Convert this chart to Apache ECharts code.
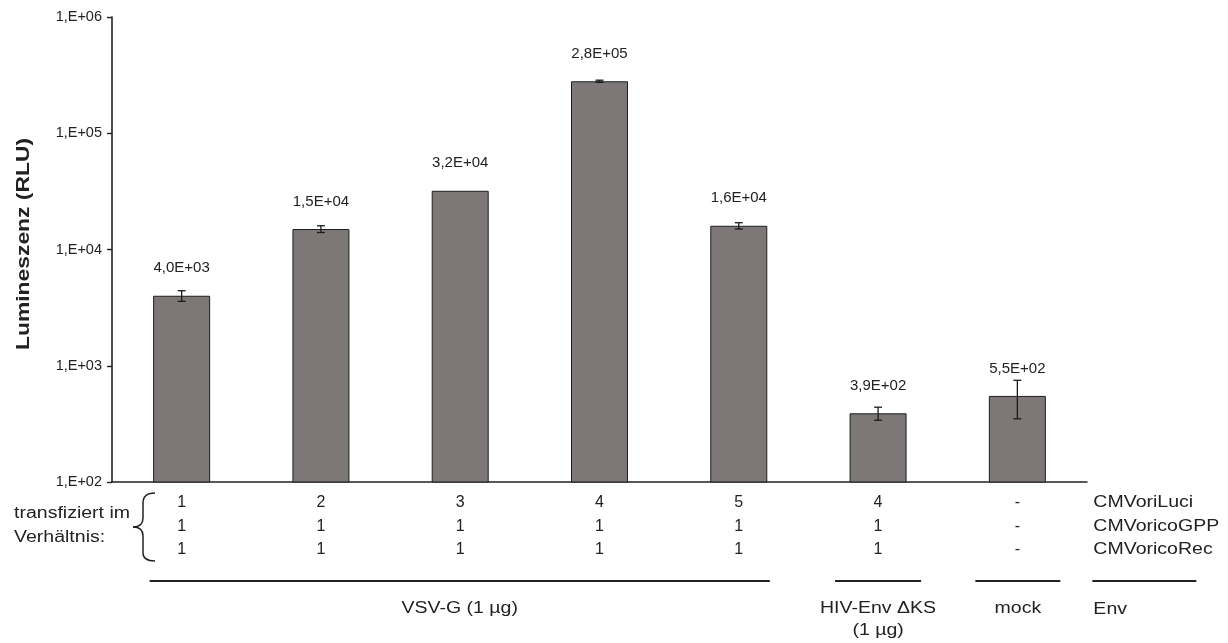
<!DOCTYPE html>
<html>
<head>
<meta charset="utf-8">
<title>Lumineszenz</title>
<script src="https://cdn.jsdelivr.net/npm/echarts@6/dist/echarts.min.js"></script>
<style>
  html, body { margin: 0; padding: 0; background: #ffffff; }
  #chart { width: 1228px; height: 643px; }
</style>
</head>
<body>
<div id="chart"></div>
<script>
// Luciferase readout per transfection mix (RLU, mean and error)
const categories = ['A', 'B', 'C', 'D', 'E', 'F', 'G'];
const values = [4000, 15000, 32000, 280000, 16000, 390, 550];
const errors = [420, 1000, 0, 6000, 1000, 50, 200];

// Plasmid ratios shown under each bar
const luciRatio = ['1', '2', '3', '4', '5', '4', '-'];
const gppRatio  = ['1', '1', '1', '1', '1', '1', '-'];
const recRatio  = ['1', '1', '1', '1', '1', '1', '-'];
const plasmidNames = ['CMVoriLuci', 'CMVoricoGPP', 'CMVoricoRec'];

// Envelope groups: label and first/last category index
const envGroups = [
  { lines: ['VSV-G (1 µg)'], from: 0, to: 4 },
  { lines: ['HIV-Env ΔKS', '(1 µg)'], from: 5, to: 5 },
  { lines: ['mock'], from: 6, to: 6 }
];

const FONT = '"Liberation Sans", Arial, Helvetica, sans-serif';
const INK = '#222222';

function sci(v) {
  const e = Math.floor(Math.log10(v));
  const m = (v / Math.pow(10, e)).toFixed(1).replace('.', ',');
  return m + 'E+' + String(e).padStart(2, '0');
}

const chart = echarts.init(document.getElementById('chart'), null, { renderer: 'canvas' });

chart.setOption({
  animation: false,
  backgroundColor: '#ffffff',
  textStyle: { fontFamily: FONT },
  grid: { left: 112, top: 17, width: 975, height: 465, containLabel: false },
  xAxis: {
    type: 'category',
    data: categories,
    boundaryGap: true,
    axisLine: { show: true, lineStyle: { color: INK, width: 1.6 } },
    axisTick: { show: false },
    axisLabel: {
      interval: 0,
      margin: 9,
      fontSize: 16,
      lineHeight: 23.5,
      color: INK,
      fontFamily: FONT,
      formatter: (v, idx) => [luciRatio[idx], gppRatio[idx], recRatio[idx]].join('\n')
    },
    splitLine: { show: false }
  },
  yAxis: {
    type: 'log',
    logBase: 10,
    min: 100,
    max: 1000000,
    axisLine: { show: true, lineStyle: { color: INK, width: 1.6 } },
    axisTick: { show: true, length: 5, inside: false, lineStyle: { color: INK, width: 1.4 } },
    minorTick: { show: false },
    splitLine: { show: false },
    axisLabel: {
      margin: 10,
      fontSize: 14.5,
      color: INK,
      fontFamily: FONT,
      formatter: v => '1,E+' + String(Math.round(Math.log10(v))).padStart(2, '0')
    }
  },
  series: [
    {
      type: 'bar',
      data: values,
      barWidth: 57,
      itemStyle: { color: '#7e7777', borderColor: '#1e1e1e', borderWidth: 1 },
      label: {
        show: true,
        position: 'top',
        distance: 20,
        fontSize: 15,
        color: INK,
        fontFamily: FONT,
        formatter: p => sci(p.value)
      },
      z: 2
    },
    {
      type: 'custom',
      data: values.map((v, i) => [i, v + errors[i], v - errors[i]]),
      encode: { x: 0, y: [1, 2] },
      renderItem: (params, api) => {
        const hiV = api.value(1), loV = api.value(2);
        if (hiV === loV) return null;
        const hi = api.coord([api.value(0), hiV]);
        const lo = api.coord([api.value(0), loV]);
        const w = 4;
        const st = { stroke: '#1a1a1a', lineWidth: 1.3 };
        return {
          type: 'group',
          children: [
            { type: 'line', shape: { x1: hi[0], y1: hi[1], x2: lo[0], y2: lo[1] }, style: st },
            { type: 'line', shape: { x1: hi[0] - w, y1: hi[1], x2: hi[0] + w, y2: hi[1] }, style: st },
            { type: 'line', shape: { x1: lo[0] - w, y1: lo[1], x2: lo[0] + w, y2: lo[1] }, style: st }
          ]
        };
      },
      z: 3
    }
  ]
});

// Annotation layer below the plot: side labels, brace, group rules and envelope names
const cx = i => chart.convertToPixel({ xAxisIndex: 0 }, i);
const rowY = [503, 526.5, 550];
const STRETCH = 1.22;
const graphics = [];

function txt(x, y, text, opts) {
  opts = opts || {};
  graphics.push({
    type: 'text',
    x: x, y: y,
    scaleX: opts.scale || STRETCH,
    rotation: opts.rotation || 0,
    style: {
      text: text,
      font: (opts.weight || 'normal') + ' ' + (opts.size || 16) + 'px ' + FONT,
      fill: INK,
      textAlign: opts.align || 'left',
      textVerticalAlign: 'middle'
    },
    silent: true
  });
}

function seg(x1, y1, x2, y2, w) {
  graphics.push({
    type: 'line',
    shape: { x1: x1, y1: y1, x2: x2, y2: y2 },
    style: { stroke: INK, lineWidth: w || 1.8 },
    silent: true
  });
}

function curve(x1, y1, cpx1, cpy1, cpx2, cpy2, x2, y2) {
  graphics.push({
    type: 'bezierCurve',
    shape: { x1: x1, y1: y1, cpx1: cpx1, cpy1: cpy1, cpx2: cpx2, cpy2: cpy2, x2: x2, y2: y2 },
    style: { stroke: INK, lineWidth: 1.5, fill: null },
    silent: true
  });
}

// Y axis title
txt(24, 244, 'Lumineszenz (RLU)', { rotation: Math.PI / 2, align: 'center', weight: 'bold', size: 18, scale: 1.27 });

// Left caption and curly brace
txt(14, 514, 'transfiziert im');
txt(14, 537.5, 'Verhältnis:');
curve(155, 493, 147, 493, 143, 496, 143, 503);
seg(143, 503, 143, 518, 1.5);
curve(143, 518, 143, 524, 140, 527, 133, 527);
curve(133, 527, 140, 527, 143, 530, 143, 536);
seg(143, 536, 143, 553, 1.5);
curve(143, 553, 143, 559, 147, 561, 155, 561);

// Plasmid names on the right
const labelX = cx(6) + 76;
plasmidNames.forEach((n, k) => txt(labelX, rowY[k], n));

// Envelope group rules and names
const ruleY = 581;
const pad = [[32, 31], [43, 43], [42, 43]];
envGroups.forEach((g, k) => {
  const x1 = cx(g.from) - pad[k][0];
  const x2 = cx(g.to) + pad[k][1];
  seg(x1, ruleY, x2, ruleY);
  const mid = (x1 + x2) / 2;
  g.lines.forEach((line, j) => txt(mid, 609 + j * 22, line, { align: 'center' }));
});
seg(labelX - 1, ruleY, labelX + 103, ruleY);
txt(labelX, 610, 'Env');

chart.setOption({ graphic: graphics });
</script>
</body>
</html>
